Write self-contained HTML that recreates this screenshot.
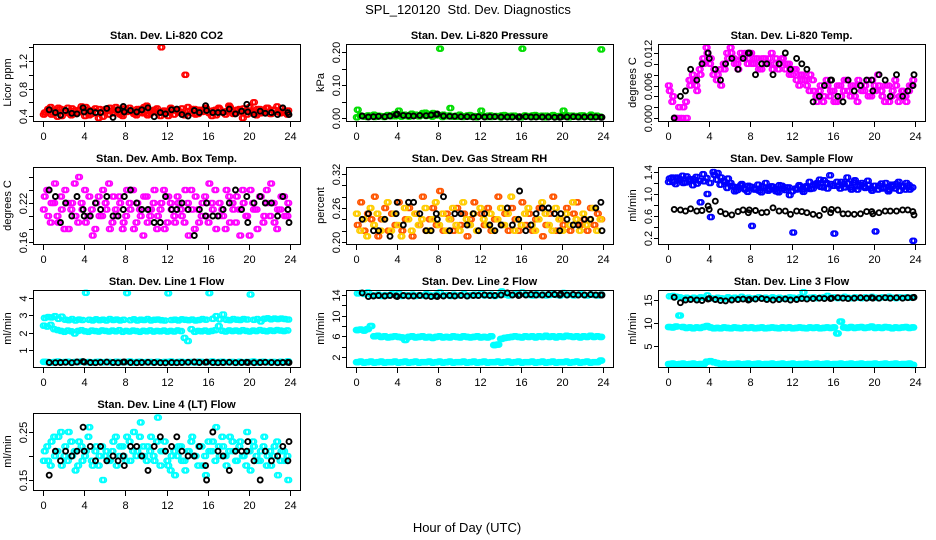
<!DOCTYPE html>
<html><head><meta charset="utf-8"><title>SPL_120120 Std. Dev. Diagnostics</title>
<style>
html,body{margin:0;padding:0;background:#fff;}
svg{display:block;font-family:"Liberation Sans",Arial,sans-serif;}
</style></head>
<body>
<svg id="chart" width="936" height="540" viewBox="0 0 936 540">
<rect width="936" height="540" fill="#fff"/>
<text x="468" y="14" font-size="13" text-anchor="middle">SPL_120120&#160; Std. Dev. Diagnostics</text>
<text x="467" y="532" font-size="13" text-anchor="middle">Hour of Day (UTC)</text>
</svg>
<script>
const xTicks = [0,4,8,12,16,20,24];
const blackHours = [0.6,1.2,1.7,2.2,2.8,3.3,3.9,4.0,4.6,5.1,5.6,6.2,6.8,7.3,7.8,7.9,8.5,9.1,9.6,10.2,10.8,11.4,11.9,12.5,13.0,13.5,14.1,14.7,15.2,15.8,15.9,16.5,17.0,17.5,18.1,18.7,19.3,19.8,19.9,20.5,21.1,21.6,22.2,22.8,23.3,23.8,23.9];

const co2RedA = [0.45,0.50,0.42,0.48,0.52,0.40,0.47,0.44,0.51,0.43,0.49,0.46,0.53,0.41,0.48,0.45,0.50,0.39,0.47,0.52,0.44,0.49,0.42,0.51,0.46,0.48,0.43,0.50,0.45,0.53,0.41,0.47,0.49,0.44,1.40,0.46,0.40,0.50,0.48,0.45,0.51,1.00,0.47,0.50,0.42,0.49,0.46,0.52,0.44,0.48,0.41,0.50,0.45,0.47,0.53,0.43,0.49,0.46,0.51,0.42,0.48,0.60,0.50,0.44,0.47,0.52,0.43,0.49,0.46,0.51,0.45,0.48];
const co2RedB = [0.42,0.47,0.53,0.44,0.39,0.50,0.46,0.52,0.41,0.48,0.45,0.54,0.40,0.49,0.43,0.51,0.37,0.46,0.50,0.42,0.48,0.53,0.45,0.40,0.49,0.52,0.46,0.41,0.50,0.44,0.55,0.43,0.47,0.51,0.40,0.48,0.45,0.52,0.42,0.49,0.46,0.41,0.53,0.44,0.50,0.43,0.48,0.51,0.45,0.40,0.49,0.52,0.46,0.42,0.55,0.47,0.44,0.50,0.37,0.48,0.53,0.45,0.41,0.50,0.46,0.52,0.43,0.49,0.54,0.44,0.47,0.42];
const co2Black = [0.49,0.45,0.41,0.48,0.44,0.43,0.52,0.46,0.47,0.45,0.45,0.51,0.38,0.49,0.54,0.46,0.48,0.46,0.49,0.52,0.39,0.45,0.43,0.49,0.50,0.42,0.40,0.48,0.45,0.55,0.48,0.45,0.45,0.45,0.50,0.43,0.47,0.57,0.46,0.42,0.47,0.44,0.45,0.42,0.52,0.45,0.42];

const presGreenA = [0.025,0.006,0.004,0.008,0.005,0.003,0.007,0.005,0.004,0.006,0.008,0.005,0.022,0.009,0.006,0.004,0.007,0.010,0.005,0.015,0.006,0.012,0.015,0.008,0.210,0.010,0.005,0.030,0.006,0.004,0.007,0.005,0.008,0.004,0.006,0.005,0.022,0.004,0.007,0.003,0.006,0.005,0.008,0.004,0.006,0.007,0.005,0.004,0.210,0.006,0.005,0.008,0.004,0.006,0.005,0.007,0.004,0.009,0.005,0.006,0.022,0.005,0.007,0.004,0.006,0.008,0.005,0.004,0.010,0.006,0.005,0.208];
const presGreenB = [0.002,0.008,0.005,0.003,0.007,0.010,0.004,0.006,0.003,0.009,0.005,0.012,0.007,0.004,0.010,0.006,0.013,0.008,0.005,0.011,0.016,0.007,0.004,0.012,0.009,0.003,0.006,0.008,0.004,0.007,0.010,0.003,0.006,0.009,0.004,0.002,0.007,0.005,0.003,0.008,0.004,0.006,0.002,0.009,0.005,0.003,0.007,0.004,0.002,0.008,0.006,0.003,0.009,0.004,0.007,0.002,0.005,0.008,0.003,0.006,0.004,0.009,0.002,0.007,0.005,0.003,0.008,0.004,0.006,0.002,0.007,0.004];
const presBlack = [0.006,0.003,0.004,0.005,0.004,0.006,0.010,0.012,0.008,0.007,0.006,0.008,0.007,0.009,0.011,0.012,0.006,0.005,0.005,0.004,0.004,0.003,0.004,0.003,0.004,0.004,0.003,0.003,0.003,0.002,0.004,0.004,0.003,0.003,0.003,0.003,0.002,0.002,0.003,0.003,0.004,0.003,0.003,0.003,0.003,0.002,0.002];

const tempMagA = [0.005,0.004,0.000,0.000,0.002,0.000,0.006,0.007,0.005,0.008,0.010,0.012,0.011,0.009,0.008,0.006,0.009,0.011,0.012,0.010,0.009,0.011,0.012,0.011,0.010,0.011,0.009,0.011,0.010,0.011,0.009,0.011,0.010,0.011,0.010,0.008,0.009,0.007,0.008,0.007,0.006,0.008,0.005,0.003,0.006,0.004,0.006,0.005,0.003,0.006,0.004,0.007,0.005,0.006,0.004,0.007,0.005,0.006,0.004,0.007,0.005,0.006,0.004,0.006,0.003,0.005,0.006,0.004,0.005,0.003,0.006,0.007];
const tempMagB = [0.006,0.003,0.000,0.002,0.000,0.003,0.007,0.008,0.006,0.009,0.011,0.013,0.010,0.008,0.007,0.009,0.010,0.012,0.013,0.011,0.010,0.012,0.011,0.010,0.012,0.010,0.011,0.009,0.011,0.010,0.012,0.010,0.009,0.011,0.009,0.010,0.008,0.009,0.006,0.008,0.007,0.005,0.007,0.004,0.005,0.003,0.007,0.004,0.005,0.003,0.006,0.005,0.007,0.004,0.006,0.003,0.006,0.005,0.007,0.004,0.006,0.008,0.005,0.003,0.006,0.004,0.007,0.003,0.005,0.004,0.005,0.006];
const tempBlack = [0.000,0.004,0.005,0.009,0.007,0.010,0.012,0.011,0.009,0.007,0.010,0.011,0.009,0.011,0.012,0.012,0.008,0.010,0.010,0.008,0.010,0.012,0.009,0.011,0.010,0.009,0.003,0.004,0.006,0.007,0.007,0.004,0.003,0.007,0.005,0.006,0.007,0.007,0.005,0.008,0.007,0.004,0.008,0.004,0.005,0.006,0.008];

const ambMagA = [0.23,0.20,0.22,0.25,0.19,0.21,0.24,0.18,0.22,0.20,0.26,0.21,0.19,0.23,0.17,0.22,0.20,0.24,0.21,0.18,0.23,0.20,0.22,0.19,0.24,0.21,0.18,0.22,0.20,0.23,0.19,0.21,0.24,0.20,0.22,0.18,0.23,0.21,0.19,0.22,0.20,0.24,0.17,0.21,0.23,0.19,0.22,0.20,0.25,0.21,0.18,0.22,0.20,0.24,0.19,0.21,0.23,0.17,0.22,0.20,0.24,0.21,0.18,0.23,0.20,0.22,0.25,0.19,0.21,0.23,0.20,0.22];
const ambMagB = [0.21,0.24,0.19,0.22,0.20,0.23,0.18,0.22,0.21,0.25,0.19,0.22,0.24,0.20,0.21,0.18,0.23,0.20,0.22,0.25,0.19,0.21,0.23,0.18,0.20,0.22,0.24,0.19,0.21,0.17,0.23,0.20,0.22,0.18,0.21,0.24,0.19,0.22,0.20,0.23,0.21,0.19,0.22,0.24,0.18,0.21,0.20,0.23,0.19,0.22,0.24,0.20,0.21,0.18,0.23,0.22,0.19,0.21,0.24,0.20,0.17,0.22,0.21,0.23,0.19,0.24,0.20,0.22,0.18,0.21,0.23,0.20];
const ambBlack = [0.24,0.23,0.19,0.22,0.20,0.23,0.21,0.20,0.20,0.22,0.21,0.23,0.20,0.20,0.21,0.23,0.24,0.22,0.21,0.21,0.19,0.19,0.23,0.21,0.21,0.22,0.21,0.17,0.21,0.20,0.22,0.20,0.20,0.21,0.22,0.24,0.21,0.23,0.19,0.22,0.23,0.22,0.22,0.20,0.23,0.21,0.19];

const rhOrangeA = [0.23,0.27,0.22,0.25,0.24,0.28,0.21,0.24,0.26,0.22,0.25,0.23,0.27,0.22,0.24,0.26,0.21,0.25,0.23,0.28,0.22,0.24,0.26,0.23,0.29,0.22,0.25,0.24,0.22,0.26,0.23,0.25,0.21,0.24,0.27,0.22,0.25,0.23,0.26,0.22,0.24,0.28,0.23,0.25,0.22,0.26,0.24,0.22,0.27,0.23,0.25,0.22,0.24,0.26,0.21,0.23,0.25,0.28,0.22,0.24,0.23,0.26,0.22,0.25,0.27,0.23,0.24,0.22,0.26,0.23,0.25,0.24];
const rhOrangeB = [0.25,0.22,0.24,0.21,0.26,0.23,0.25,0.22,0.24,0.27,0.22,0.25,0.23,0.21,0.26,0.24,0.22,0.25,0.23,0.24,0.26,0.22,0.24,0.27,0.23,0.25,0.22,0.24,0.26,0.23,0.22,0.27,0.24,0.23,0.25,0.22,0.26,0.24,0.23,0.25,0.22,0.24,0.26,0.23,0.25,0.28,0.22,0.24,0.23,0.25,0.26,0.23,0.22,0.24,0.27,0.25,0.23,0.22,0.26,0.24,0.22,0.25,0.23,0.27,0.24,0.22,0.25,0.23,0.24,0.26,0.22,0.24];
const rhBlack = [0.24,0.25,0.22,0.22,0.24,0.21,0.25,0.27,0.23,0.27,0.27,0.25,0.22,0.22,0.25,0.24,0.28,0.22,0.25,0.25,0.23,0.25,0.22,0.25,0.23,0.22,0.23,0.26,0.23,0.24,0.29,0.22,0.23,0.25,0.26,0.26,0.25,0.22,0.25,0.24,0.23,0.23,0.24,0.24,0.26,0.27,0.22];

const flowBlueA = [1.28,1.22,1.30,1.25,1.20,1.32,1.24,1.27,1.19,0.85,1.23,1.00,0.58,1.35,1.38,1.30,1.22,1.28,1.15,1.05,1.12,1.18,1.08,1.15,0.42,1.10,1.06,1.14,1.20,1.09,1.13,1.05,1.16,1.10,1.12,0.98,0.30,1.08,1.14,1.04,1.12,1.09,1.17,1.20,1.13,1.25,1.10,1.18,0.28,1.15,1.22,1.12,1.19,1.08,1.25,1.14,1.20,1.11,1.17,1.06,0.32,1.15,1.10,1.20,1.08,1.14,1.18,1.06,1.13,1.20,1.08,0.15];
const flowBlueB = [1.22,1.30,1.18,1.28,1.33,1.21,1.27,1.16,1.31,1.24,1.36,1.29,1.20,1.40,1.26,1.17,1.24,1.11,1.20,1.13,1.07,1.16,1.10,1.04,1.13,1.08,1.17,1.03,1.11,1.06,1.14,1.09,1.03,1.15,1.07,1.12,1.05,1.10,1.16,1.08,1.14,1.22,1.10,1.16,1.26,1.12,1.20,1.34,1.15,1.22,1.10,1.18,1.30,1.12,1.21,1.08,1.16,1.13,1.24,1.10,1.15,1.08,1.19,1.12,1.05,1.17,1.10,1.22,1.14,1.08,1.16,1.12];
const flowBlack = [0.72,0.71,0.69,0.73,0.69,0.70,0.78,0.72,0.87,0.68,0.64,0.62,0.68,0.71,0.66,0.71,0.70,0.66,0.67,0.75,0.69,0.69,0.63,0.69,0.68,0.66,0.63,0.61,0.72,0.66,0.72,0.71,0.64,0.64,0.63,0.64,0.68,0.68,0.64,0.66,0.69,0.69,0.69,0.71,0.71,0.68,0.62];

const line1Top = [2.85,2.90,2.88,2.95,2.80,2.92,2.75,2.72,2.78,2.70,2.76,2.73,4.30,2.74,2.71,2.77,2.72,2.75,2.70,2.78,2.73,2.76,2.71,2.74,4.28,2.72,2.77,2.70,2.75,2.73,2.78,2.71,2.74,2.76,2.72,2.70,4.27,2.73,2.75,2.71,2.77,2.74,2.72,2.76,2.70,2.73,2.78,2.75,4.28,2.80,2.95,2.77,3.05,2.74,2.72,2.78,2.75,2.73,2.79,2.76,4.20,2.74,2.78,2.65,2.80,2.83,2.77,2.81,2.78,2.82,2.79,2.76];
const line1Mid = [2.40,2.35,2.45,2.20,2.15,2.10,2.05,2.12,2.08,1.95,2.10,2.14,2.08,2.05,2.12,2.09,2.06,2.13,2.10,2.07,2.12,2.08,2.14,2.05,2.10,2.07,2.12,2.09,2.05,2.11,2.08,2.13,2.06,2.10,2.08,2.12,2.06,2.10,2.07,2.13,2.09,1.70,1.52,2.20,2.05,2.10,2.08,2.12,2.06,2.10,2.14,2.38,2.11,2.07,2.13,2.09,2.12,2.08,2.14,2.10,2.07,2.12,2.09,2.15,2.11,2.08,2.13,2.10,2.15,2.12,2.09,2.13];
const line1Low = [0.32,0.30,0.28,0.31,0.33,0.29,0.30,0.32,0.28,0.31,0.30,0.33,0.29,0.31,0.28,0.30,0.32,0.29,0.31,0.30,0.28,0.32,0.30,0.29,0.31,0.33,0.28,0.30,0.32,0.29,0.31,0.30,0.28,0.32,0.29,0.31,0.30,0.33,0.28,0.30,0.32,0.29,0.31,0.30,0.28,0.32,0.30,0.29,0.31,0.33,0.28,0.30,0.32,0.29,0.31,0.30,0.28,0.32,0.29,0.31,0.30,0.33,0.28,0.30,0.32,0.29,0.31,0.30,0.28,0.32,0.29,0.34];
const line1Black = [0.28,0.27,0.28,0.29,0.27,0.31,0.33,0.30,0.28,0.27,0.29,0.30,0.28,0.27,0.30,0.31,0.28,0.27,0.28,0.29,0.28,0.27,0.26,0.28,0.27,0.28,0.29,0.31,0.28,0.29,0.30,0.28,0.27,0.28,0.29,0.27,0.28,0.29,0.28,0.27,0.28,0.29,0.28,0.27,0.28,0.29,0.28];

const line2Top = [14.3,14.4,14.2,14.5,14.0,13.9,14.1,13.8,14.0,13.9,14.2,14.0,14.3,13.8,14.0,13.9,14.1,13.8,14.0,13.9,14.2,14.0,13.8,14.1,14.5,13.9,14.0,13.8,14.1,13.9,14.0,14.2,13.8,14.0,14.1,13.9,14.3,13.9,14.0,14.1,13.8,14.0,14.7,14.1,13.9,14.0,14.2,14.0,14.5,14.1,14.0,13.9,14.2,14.0,14.1,13.9,14.0,14.2,14.0,13.9,14.4,14.0,14.1,13.9,14.0,14.2,14.0,13.9,14.1,14.0,13.9,14.1];
const line2Mid = [7.2,7.3,7.1,7.4,8.0,6.0,6.1,5.9,6.0,5.8,5.9,6.0,5.9,5.8,5.3,5.9,6.0,5.8,5.9,6.0,5.8,5.9,5.7,5.9,6.0,5.8,5.9,5.8,6.0,5.9,5.8,6.0,5.9,5.8,5.9,6.0,5.8,5.9,5.8,6.0,4.3,4.4,5.5,5.7,5.8,5.9,6.0,5.9,5.8,6.0,5.9,6.0,5.8,6.0,5.9,6.1,5.9,6.0,5.8,6.0,5.9,6.1,6.0,5.9,6.0,5.8,6.0,5.9,6.1,5.9,6.0,5.9];
const line2Low = [1.0,1.1,0.9,1.0,1.1,0.9,1.0,1.1,0.9,1.0,1.0,1.1,0.9,1.0,1.1,0.9,1.0,1.1,0.9,1.0,1.0,1.1,0.9,1.0,1.1,0.9,1.0,1.1,0.9,1.0,1.0,1.1,0.9,1.0,1.1,0.9,1.0,1.1,0.9,1.0,1.0,1.1,0.9,1.0,1.1,0.9,1.0,1.1,0.9,1.0,1.0,1.1,0.9,1.0,1.1,0.9,1.0,1.1,0.9,1.0,1.0,1.1,0.9,1.0,1.1,0.9,1.0,1.1,0.9,1.0,1.0,1.3];
const line2Black = [14.4,13.7,13.8,13.9,13.8,13.9,13.8,13.7,13.9,13.8,13.8,13.9,13.8,13.7,13.8,13.7,13.8,13.9,13.8,13.9,13.8,13.9,13.9,14.0,13.9,13.9,14.0,14.4,14.0,13.9,14.0,14.0,14.1,14.0,14.0,14.1,14.1,14.0,14.2,14.0,14.1,14.0,14.0,14.1,14.0,14.0,14.0];

const line3Top = [15.8,15.9,15.7,15.6,15.4,15.5,15.3,15.5,15.4,15.6,15.5,16.0,15.4,15.3,15.5,15.4,15.3,15.6,15.4,15.5,15.3,15.7,15.4,15.5,15.3,15.4,15.6,15.4,15.5,15.3,15.6,15.4,15.5,15.3,15.4,15.6,15.5,15.4,15.6,16.7,15.4,15.5,15.6,15.4,15.5,15.6,15.9,15.5,15.6,15.4,15.5,15.7,15.5,15.4,15.6,15.5,15.4,15.6,15.5,15.7,15.5,15.4,15.6,15.5,15.7,15.5,15.4,15.6,15.5,15.6,15.5,15.6];
const line3Mid = [9.1,9.0,9.2,11.6,9.1,8.9,9.0,8.8,9.0,8.9,9.1,9.3,9.0,8.8,8.9,8.8,9.0,8.9,8.8,9.0,8.9,8.8,9.0,8.9,9.0,8.8,8.9,9.0,8.8,8.9,9.0,8.9,8.8,9.0,8.9,9.0,8.8,8.9,9.0,8.9,8.8,9.0,8.9,9.0,8.8,8.9,9.0,8.9,9.0,7.7,10.3,9.0,8.9,9.1,8.9,9.0,9.1,8.9,9.0,9.2,8.9,9.0,8.9,9.1,9.0,8.8,9.0,8.9,9.0,9.1,8.9,9.0];
const line3Low = [1.0,1.1,0.9,1.0,1.1,0.9,1.0,1.1,0.9,1.0,1.0,1.5,1.6,1.4,1.2,1.0,1.1,0.9,1.0,1.0,1.1,0.9,1.0,1.1,0.9,1.0,1.1,0.9,1.0,1.0,1.1,0.9,1.0,1.1,0.9,1.0,1.1,0.9,1.0,1.0,1.1,0.9,1.0,1.1,0.9,1.0,1.1,0.9,1.0,1.0,1.1,0.9,1.0,1.1,0.9,1.0,1.1,0.9,1.0,1.0,1.1,0.9,1.0,1.1,0.9,1.0,1.1,0.9,1.0,1.0,1.1,0.8];
const line3Black = [15.6,14.4,15.0,15.1,15.0,14.9,15.2,15.3,15.1,14.9,14.8,15.0,15.1,15.2,15.0,15.1,15.2,15.3,15.1,15.0,15.1,15.2,15.0,15.1,15.3,15.2,15.3,15.4,15.3,15.3,15.4,15.5,15.4,15.3,15.4,15.5,15.4,15.5,15.4,15.4,15.5,15.4,15.5,15.4,15.5,15.5,15.6];

const line4CyanA = [0.21,0.19,0.23,0.20,0.24,0.18,0.22,0.25,0.20,0.17,0.23,0.19,0.21,0.26,0.18,0.22,0.20,0.15,0.21,0.19,0.23,0.18,0.22,0.20,0.24,0.19,0.25,0.21,0.27,0.20,0.22,0.24,0.19,0.28,0.21,0.23,0.18,0.20,0.16,0.22,0.19,0.17,0.21,0.24,0.20,0.22,0.18,0.16,0.21,0.23,0.26,0.20,0.22,0.18,0.24,0.21,0.19,0.23,0.20,0.25,0.17,0.22,0.19,0.21,0.24,0.20,0.18,0.22,0.16,0.21,0.19,0.15];
const line4CyanB = [0.19,0.22,0.18,0.24,0.21,0.25,0.20,0.19,0.23,0.21,0.18,0.22,0.20,0.24,0.19,0.21,0.18,0.22,0.20,0.19,0.21,0.24,0.20,0.22,0.19,0.23,0.21,0.20,0.24,0.22,0.19,0.21,0.20,0.23,0.18,0.21,0.19,0.17,0.21,0.20,0.22,0.19,0.21,0.23,0.20,0.18,0.22,0.20,0.23,0.21,0.19,0.22,0.24,0.20,0.21,0.23,0.19,0.22,0.20,0.18,0.21,0.23,0.20,0.19,0.22,0.18,0.21,0.20,0.23,0.19,0.21,0.20];
const line4Black = [0.16,0.21,0.19,0.21,0.20,0.21,0.26,0.21,0.22,0.19,0.22,0.19,0.20,0.19,0.20,0.18,0.22,0.22,0.20,0.17,0.22,0.24,0.21,0.22,0.24,0.21,0.20,0.20,0.22,0.18,0.15,0.25,0.21,0.20,0.17,0.21,0.21,0.21,0.23,0.19,0.15,0.21,0.19,0.20,0.22,0.19,0.23];

const colLeft = [33,346,658];
const rowTop = [44,167,290,413];
const BOX_W = 267, BOX_H = 77;

const panels = [
 {name:'co2', title:'Stan. Dev. Li-820 CO2', ylab:'Licor ppm', c:0, r:0, anc:[0.4,116,1.2,61], ticks:[0.4,0.6,0.8,1.0,1.2,1.4], labels:['0.4','','0.8','','1.2',''], series:[[co2RedA,'A','#ff0000'],[co2RedB,'B','#ff0000'],[co2Black,'K','#000']]},
 {name:'pressure', title:'Stan. Dev. Li-820 Pressure', ylab:'kPa', c:1, r:0, anc:[0,118,0.2,52], ticks:[0,0.05,0.1,0.15,0.2], labels:['0.00','','0.10','','0.20'], series:[[presGreenB,'B','#00dd00'],[presGreenA,'A','#00dd00'],[presBlack,'K','#000']]},
 {name:'temp', title:'Stan. Dev. Li-820 Temp.', ylab:'degrees C', c:2, r:0, anc:[0,118,0.012,53], ticks:[0,0.002,0.004,0.006,0.008,0.010,0.012], labels:['0.000','','','0.006','','','0.012'], series:[[tempMagA,'A','#ff00ff'],[tempMagB,'B','#ff00ff'],[tempBlack,'K','#000']]},
 {name:'amb-box-temp', title:'Stan. Dev. Amb. Box Temp.', ylab:'degrees C', c:0, r:1, anc:[0.16,242,0.22,203], ticks:[0.16,0.18,0.20,0.22,0.24,0.26], labels:['0.16','','','0.22','',''], series:[[ambMagA,'A','#ff00ff'],[ambMagB,'B','#ff00ff'],[ambBlack,'K','#000']]},
 {name:'gas-stream-rh', title:'Stan. Dev. Gas Stream RH', ylab:'percent', c:1, r:1, anc:[0.20,242,0.32,174], ticks:[0.20,0.22,0.24,0.26,0.28,0.30,0.32], labels:['0.20','','','0.26','','','0.32'], series:[[rhOrangeA,'A','#ff5500'],[rhOrangeB,'B','#ffcc00'],[rhBlack,'K','#000']]},
 {name:'sample-flow', title:'Stan. Dev. Sample Flow', ylab:'ml/min', c:2, r:1, anc:[0.2,238,1.4,172], ticks:[0.2,0.4,0.6,0.8,1.0,1.2,1.4], labels:['0.2','','0.6','','1.0','','1.4'], series:[[flowBlueA,'A','#0000ff'],[flowBlueB,'B','#0000ff'],[flowBlack,'K','#000']]},
 {name:'line1-flow', title:'Stan. Dev. Line 1 Flow', ylab:'ml/min', c:0, r:2, anc:[1,350,4,298], ticks:[1,2,3,4], labels:['1','2','3','4'], series:[[line1Top,'A','#00ffff'],[line1Mid,'B','#00ffff'],[line1Low,'A','#00ffff'],[line1Low,'B','#00ffff'],[line1Black,'K','#000']]},
 {name:'line2-flow', title:'Stan. Dev. Line 2 Flow', ylab:'ml/min', c:1, r:2, anc:[2,357,14,295], ticks:[2,4,6,8,10,12,14], labels:['2','','6','','10','','14'], series:[[line2Top,'A','#00ffff'],[line2Mid,'A','#00ffff'],[line2Mid,'B','#00ffff'],[line2Low,'A','#00ffff'],[line2Low,'B','#00ffff'],[line2Black,'K','#000']]},
 {name:'line3-flow', title:'Stan. Dev. Line 3 Flow', ylab:'ml/min', c:2, r:2, anc:[5,345.7,15,300], ticks:[5,10,15], labels:['5','10','15'], series:[[line3Top,'A','#00ffff'],[line3Mid,'A','#00ffff'],[line3Mid,'B','#00ffff'],[line3Low,'A','#00ffff'],[line3Low,'B','#00ffff'],[line3Black,'K','#000']]},
 {name:'line4-flow', title:'Stan. Dev. Line 4 (LT) Flow', ylab:'ml/min', c:0, r:3, anc:[0.15,480,0.25,432], ticks:[0.15,0.20,0.25], labels:['0.15','','0.25'], series:[[line4CyanA,'A','#00ffff'],[line4CyanB,'B','#00ffff'],[line4Black,'K','#000']]}
];

const NS='http://www.w3.org/2000/svg';
const svg=document.getElementById('chart');
function mk(tag,attrs,parent){const e=document.createElementNS(NS,tag);for(const k in attrs)e.setAttribute(k,attrs[k]);(parent||svg).appendChild(e);return e;}

panels.forEach(p=>{
  const L=colLeft[p.c], T=rowTop[p.r], B=T+BOX_H;
  const g=mk('g',{});
  
  
  const xs=h=>L+10+h*(247/24);
  const k=(p.anc[3]-p.anc[1])/(p.anc[2]-p.anc[0]);
  const ys=v=>p.anc[1]+(v-p.anc[0])*k;
  const marks=mk('g',{fill:'none'},g);
  
  
  p.series.forEach(s=>{
    const arr=s[0], n=arr.length;
    arr.forEach((v,i)=>{
      let hs;
      if(s[1]==='K') hs=[blackHours[i]];
      else if(s[1]==='A') hs=[(i+0.25)*24/n,(i+0.75)*24/n];
      else hs=[(i+0.0)*24/n,(i+0.5)*24/n];
      hs.forEach(h=>{
        if(h===undefined) return;
        const c=mk('circle',{cx:xs(h).toFixed(1),cy:ys(v).toFixed(1),r:2.5,stroke:s[2],'stroke-width':s[1]==='K'?1.9:1.6},marks);
        
        
      });
    });
  });
  const box=mk('rect',{x:L+0.5,y:T+0.5,width:BOX_W,height:BOX_H,fill:'none',stroke:'#000','stroke-width':1},g);
  
  
  const t=mk('text',{x:L+BOX_W/2,y:T-5,'font-size':11,'font-weight':'bold','text-anchor':'middle'},g);
  t.textContent=p.title;
  
  
  const yl=mk('text',{x:0,y:0,'font-size':11,'text-anchor':'middle',transform:`translate(${L-22},${T+BOX_H/2}) rotate(-90)`},g);
  yl.textContent=p.ylab;
  
  
  xTicks.forEach(h=>{
    const x=Math.round(xs(h))+0.5;
    mk('line',{x1:x,y1:B+1,x2:x,y2:B+6,stroke:'#000'},g);
    const tl=mk('text',{x:x,y:B+19,'font-size':11,'text-anchor':'middle'},g);
    tl.textContent=String(h);
    
    
  });
  p.ticks.forEach((v,i)=>{
    const y=Math.round(ys(v))+0.5;
    mk('line',{x1:L-4,y1:y,x2:L,y2:y,stroke:'#000'},g);
    if(p.labels[i]){
      const tl=mk('text',{x:0,y:0,'font-size':11,'text-anchor':'middle',transform:`translate(${L-6},${y}) rotate(-90)`},g);
      tl.textContent=p.labels[i];
      
      
    }
  });
});
</script>
</body></html>
